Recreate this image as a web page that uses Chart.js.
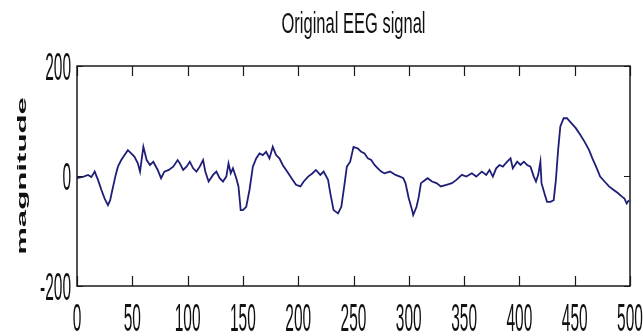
<!DOCTYPE html>
<html><head><meta charset="utf-8">
<script src="https://cdn.jsdelivr.net/npm/chart.js@4.4.0/dist/chart.umd.min.js"></script>
<style>html,body{margin:0;padding:0;background:#fff;overflow:hidden;}</style>
</head><body>
<canvas id="c" width="643" height="336"></canvas>
<script>
const sampleIdx = [0,6,10,13,16,19,22,25,28,30,32,35,37,40,43,46,49,52,55,57,60,63,66,69,73,76,79,83,87,91,93,96,99,102,105,108,111,114,116,119,
123,126,129,132,135,137,139,141,144,146,148,150,153,156,159,162,165,168,171,174,177,180,183,186,190,194,198,202,205,209,213,216,220,223,227,229,232,236,239,242,244,247,250,
254,257,260,263,266,269,272,275,278,283,288,292,295,297,300,303,304,307,309,311,313,317,321,325,329,334,339,343,348,352,357,361,366,370,
373,376,379,382,385,389,392,394,398,401,404,407,410,413,415,417,419,420,423,425,428,431,433,435,437,440,443,447,451,455,459,463,466,470,473,477,481,485,489,493,495,497,499];
const magnitude = [-4,-1,2,-2,8,-7,-25,-41,-53,-44,-25,2,17,29,38,47,41,35,23,8,53,29,20,26,11,-4,8,11,17,29,23,11,17,26,14,8,17,29,8,-10,
2,8,-4,-10,-1,23,5,14,-4,-19,-62,-62,-56,-25,17,32,41,38,44,32,53,38,32,20,8,-4,-16,-19,-10,-1,5,11,2,8,-7,-31,-62,-68,-56,-13,17,26,53,
50,44,41,32,29,20,14,8,5,8,2,-1,-4,-13,-41,-62,-71,-56,-38,-13,-10,-4,-10,-13,-19,-16,-13,-7,2,-1,5,-1,8,2,
11,-1,14,20,17,26,32,14,26,20,26,20,17,-1,-10,2,26,-13,-34,-47,-47,-44,-7,47,90,105,105,96,87,75,62,47,32,14,-1,-10,-19,-25,-31,-38,-41,-50,-44];
const xTicks = [0,50,100,150,200,250,300,350,400,450,500];
const yTicks = [-200,0,200];
const titleText = 'Original EEG signal';
const yLabel = 'magnitude';

const FONT = "'Liberation Sans', Arial, Helvetica, sans-serif";

function stretchedText(ctx, text, x, y, font, sy, align) {
  ctx.save();
  ctx.translate(x, y);
  ctx.scale(1, sy);
  ctx.font = font;
  ctx.fillStyle = '#111';
  ctx.textAlign = align;
  ctx.textBaseline = 'alphabetic';
  ctx.fillText(text, 0, 0);
  ctx.restore();
}

const matlabFrame = {
  id: 'matlabFrame',
  afterDraw(chart) {
    const {ctx, chartArea: a, scales: {x, y}} = chart;
    ctx.save();
    ctx.strokeStyle = '#1a1a1a';
    ctx.lineWidth = 1.5;
    ctx.strokeRect(a.left, a.top, a.right - a.left, a.bottom - a.top);
    ctx.lineWidth = 1.2;
    ctx.beginPath();
    xTicks.forEach(v => {
      const px = Math.round(x.getPixelForValue(v)) + 0.5;
      ctx.moveTo(px, a.bottom); ctx.lineTo(px, a.bottom - 10);
      ctx.moveTo(px, a.top); ctx.lineTo(px, a.top + 10);
    });
    yTicks.forEach(v => {
      const py = Math.round(y.getPixelForValue(v)) + 0.5;
      ctx.moveTo(a.left, py); ctx.lineTo(a.left + 6, py);
      ctx.moveTo(a.right, py); ctx.lineTo(a.right - 6, py);
    });
    ctx.stroke();
    ctx.restore();

    const tickFont = "15.5px " + FONT;
    const sy = 2.5;
    xTicks.forEach(v => {
      stretchedText(ctx, String(v), x.getPixelForValue(v), 331, tickFont, sy, 'center');
    });
    yTicks.forEach(v => {
      const py = y.getPixelForValue(v);
      stretchedText(ctx, String(v), 71, py + 13.5, tickFont, sy, 'right');
    });
    stretchedText(ctx, titleText, (a.left + a.right) / 2, 33, "16.5px " + FONT, 1.8, 'center');

    ctx.save();
    ctx.translate(26, (a.top + a.bottom) / 2);
    ctx.rotate(-Math.PI / 2);
    ctx.scale(2.4, 1);
    ctx.font = "bold 13px " + FONT;
    ctx.fillStyle = '#111';
    ctx.textAlign = 'center';
    ctx.textBaseline = 'alphabetic';
    ctx.fillText(yLabel, 0, 0);
    ctx.restore();
  }
};

new Chart(document.getElementById('c'), {
  type: 'line',
  data: {
    datasets: [{
      data: sampleIdx.map((s, i) => ({x: s, y: magnitude[i]})),
      borderColor: '#1e1e78',
      borderWidth: 1.8,
      pointRadius: 0,
      tension: 0,
      fill: false
    }]
  },
  options: {
    responsive: false,
    devicePixelRatio: 1,
    animation: false,
    layout: {padding: {top: 66, right: 13, left: 0, bottom: 0}},
    plugins: {legend: {display: false}, tooltip: {enabled: false}, title: {display: false}},
    scales: {
      x: {
        type: 'linear', min: 0, max: 500,
        ticks: {display: false, stepSize: 50},
        grid: {display: false}, border: {display: false},
        afterFit(s) { s.height = 50; }
      },
      y: {
        min: -200, max: 200,
        ticks: {display: false, stepSize: 200},
        grid: {display: false}, border: {display: false},
        afterFit(s) { s.width = 77; }
      }
    }
  },
  plugins: [matlabFrame]
});
</script>
</body></html>
